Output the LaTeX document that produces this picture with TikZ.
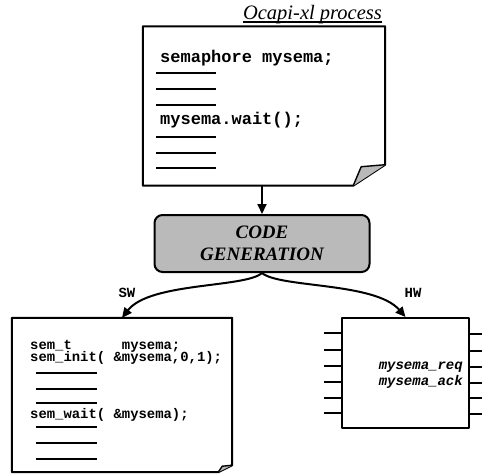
\documentclass[tikz,border=0pt]{standalone}
\usepackage{fontspec}
\setmainfont{Liberation Serif}
\setmonofont{Liberation Mono}
\usetikzlibrary{arrows.meta, positioning, calc, patterns}

\tikzset{
  docpage/.style={rectangle, inner sep=0pt},
  bigcode/.style={anchor=west, inner sep=0pt, font=\ttfamily\bfseries\fontsize{17}{17}\selectfont},
  smallcode/.style={anchor=west, inner sep=0pt, font=\ttfamily\bfseries\fontsize{13.9}{14}\selectfont},
  pinname/.style={anchor=east, inner sep=0pt, font=\ttfamily\bfseries\itshape\fontsize{14}{14}\selectfont},
  outline/.style={line width=2pt, line join=round},
  flap/.style={line width=1.4pt, line join=round, fill=gray!55},
  dashline/.style={line width=1.8pt},
  genbox/.style={draw, line width=2pt, rounded corners=8pt, fill=black!27,
    minimum width=215pt, minimum height=57pt, align=center,
    font=\bfseries\itshape\fontsize{19}{22}\selectfont},
  flow/.style={line width=2pt, -{Triangle[length=10pt,width=9pt]}},
  tag/.style={inner sep=0pt, font=\ttfamily\bfseries\fontsize{14}{14}\selectfont}
}

\begin{document}
\begin{tikzpicture}[x=1pt, y=-1pt]
\useasboundingbox (0,0) rectangle (482,475);

% process description
\node[anchor=base east, inner sep=0pt, font=\itshape\fontsize{20.5}{21}\selectfont] (title) at (382,19) {Ocapi-xl process};
\draw[line width=1.2pt] ($(title.base west)+(0,3)$) -- ($(title.base east)+(0,3)$);
\node[docpage, minimum width=242pt, minimum height=159pt] (proc) at (264,106) {};
\draw[outline] (proc.north west) -- (proc.north east) -- ($(proc.south east)+(0,-21)$)
  -- ($(proc.south east)+(-32,0)$) -- (proc.south west) -- cycle;
\draw[flap] ($(proc.south east)+(-32,0)$) -- ($(proc.south east)+(-24,-19)$) -- ($(proc.south east)+(0,-21)$);
\node[bigcode] (semdecl) at (160,58) {semaphore mysema;};
\node[bigcode] (semwait) at (160,120) {mysema.wait();};
\foreach \y in {73,89,105,137,153,168}
  \draw[dashline] (156,\y) -- (216,\y);

% code generation step
\node[genbox] (gen) at (262,243.5) {CODE\\GENERATION};
\draw[flow] (gen.north |- proc.south) -- (gen.north);

% software side
\node[docpage, minimum width=220pt, minimum height=154pt] (sw) at (122,395) {};
\draw[outline] (sw.north west) -- (sw.north east) -- ($(sw.south east)+(0,-7)$)
  -- ($(sw.south east)+(-14,0)$) -- (sw.south west) -- cycle;
\draw[flap] ($(sw.south east)+(-14,0)$) -- ($(sw.south east)+(-10,-6)$) -- ($(sw.south east)+(0,-7)$);
\node[smallcode] (swdecl) at (30,346) {sem\_t~~~~~~mysema;};
\node[smallcode] (swinit) at (30,358) {sem\_init( \&mysema,0,1);};
\node[smallcode] (swwait) at (30,415) {sem\_wait( \&mysema);};
\foreach \y in {373,389,403,427,443,459}
  \draw[dashline] (36,\y) -- (97,\y);

% hardware side
\node[draw, outline, minimum width=127pt, minimum height=110pt] (hw) at (405.5,373) {};
\foreach \y in {333,350,366,382,398,413}
  \draw[dashline] (hw.west |- 0,\y) -- ++(-17,0);
\foreach \y/\w in {334/1.8,351/1.8,367/2.8,383/2.2,398/1.8,414/1.8}
  \draw[line width=\w pt] (hw.east |- 0,\y) -- ++(14,0);
\node[pinname] (req) at (463,367) {mysema\_req};
\node[pinname] (ack) at (463,382) {mysema\_ack};

% split into sw / hw
\draw[flow] (gen.south) .. controls (245,288) and (150,282) .. (sw.north);
\draw[flow] (gen.south) .. controls (280,288) and (375,282) .. (hw.north);
\node[tag] (swtag) at (127,293) {SW};
\node[tag] (hwtag) at (413,293) {HW};
\end{tikzpicture}
\end{document}
